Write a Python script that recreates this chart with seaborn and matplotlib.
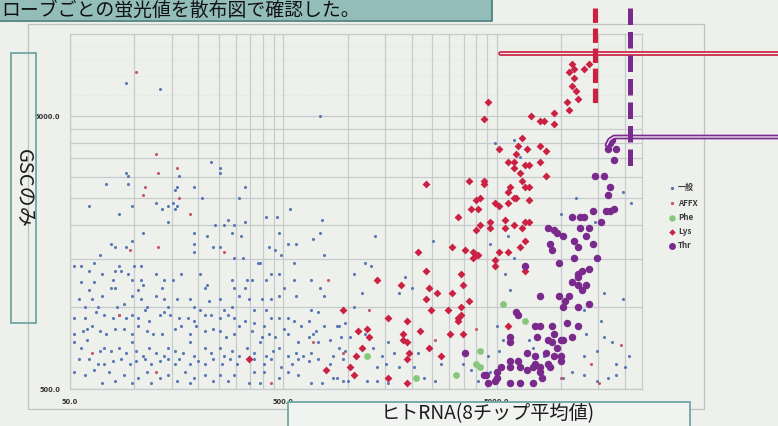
import numpy as np
import pandas as pd
import matplotlib
matplotlib.use("Agg")
import matplotlib.pyplot as plt
from matplotlib.lines import Line2D
from matplotlib.patches import Rectangle
from matplotlib.ticker import FixedLocator, NullFormatter
import seaborn as sns

# ---------------------------------------------------------------
# Probe intensities, stored as log10 values
# rna = human RNA (mean of 8 chips), gsc = GSC only
# ---------------------------------------------------------------
general_log_rna = [
    1.96, 2.12, 2.87, 2.36, 2.40, 2.40, 1.96, 1.97, 1.87, 1.97, 2.21, 2.20, 2.19, 2.28, 2.32, 2.52, 2.49,
    1.79, 1.99, 2.10, 2.13, 2.16, 2.18, 2.19, 2.20, 2.73,
    2.16, 1.93, 2.04, 2.28, 2.34, 2.38, 2.42, 2.44, 2.47, 2.52, 2.46, 2.62, 2.67, 2.68, 2.87, 2.88, 2.50,
    1.89, 1.91, 1.96, 1.99, 1.84, 2.28, 2.28, 2.37, 2.40, 2.47, 2.51, 2.58, 2.63, 2.66, 2.69, 2.72, 2.76,
    2.84, 2.89, 1.72, 1.75, 1.81, 1.79, 1.85, 1.90, 1.91, 1.93, 1.94, 1.89, 1.91, 1.97, 1.99, 2.00, 2.03,
    2.03, 2.04, 2.10, 2.14, 2.18, 2.22, 2.31, 2.34, 2.46, 2.47, 2.53, 2.55, 2.59, 2.62, 2.64, 2.68, 2.70,
    2.75, 2.75, 2.83, 2.87, 3.03,
    1.75, 1.79, 1.81, 1.85, 1.80, 1.74, 1.77, 1.83, 1.92, 1.95, 1.99, 2.02, 2.03, 2.06, 2.10, 2.13, 2.14,
    2.16, 2.20, 2.26, 2.28, 2.31, 2.33, 2.35, 2.40, 2.42, 2.46, 2.49, 2.52, 2.54, 2.56, 2.60, 2.62, 2.64,
    2.68, 2.72, 2.76, 2.83, 2.86, 2.89, 3.03,
    1.72, 1.77, 1.82, 1.86, 1.90, 1.93, 1.96, 1.99, 2.02, 2.05, 2.07, 2.12, 2.14, 2.17, 2.21, 2.25, 2.28,
    2.33, 2.36, 2.40, 2.44, 2.47, 2.52, 2.56, 2.61, 2.64, 2.68, 2.70, 2.75, 2.78, 2.82, 2.85, 2.89, 2.95, 2.99,
    1.72, 1.76, 1.78, 1.80, 1.84, 1.87, 1.91, 1.95, 1.99, 2.02, 2.06, 2.09, 2.13, 2.19, 2.22, 2.26, 2.29,
    2.33, 2.37, 2.40, 2.43, 2.47, 2.49, 2.55, 2.60, 2.63, 2.66, 2.72, 2.77, 2.82, 2.84, 2.92, 2.97, 3.01,
    1.72, 1.75, 1.78, 1.84, 1.86, 1.89, 1.93, 1.96, 1.99, 2.01, 2.04, 2.07, 2.10, 2.14, 2.16, 2.19, 2.23,
    2.26, 2.28, 2.33, 2.36, 2.40, 2.42, 2.46, 2.49, 2.53, 2.56, 2.59, 2.62, 2.65, 2.68, 2.72, 2.76, 2.79,
    2.83, 2.86, 2.93, 2.96,
    1.74, 1.79, 1.83, 1.86, 1.90, 1.94, 1.98, 2.01, 2.05, 2.08, 2.12, 2.16, 2.19, 2.21, 2.26, 2.30, 2.33,
    2.37, 2.41, 2.45, 2.48, 2.56, 2.61, 2.64, 2.69, 2.74, 2.77, 2.82, 2.86, 2.92, 2.98,
    1.72, 1.77, 1.81, 1.85, 1.88, 1.91, 1.95, 1.99, 2.02, 2.06, 2.08, 2.12, 2.16, 2.20, 2.24, 2.26, 2.28,
    2.33, 2.37, 2.40, 2.44, 2.47, 2.54, 2.56, 2.59, 2.61, 2.68, 2.72, 2.77, 2.83, 2.88, 2.93, 2.98,
    2.95, 3.00, 3.09, 3.14, 3.19, 3.08, 3.11, 3.07, 3.24, 3.27, 3.30, 3.33, 3.12, 3.16, 3.19, 3.22, 3.18,
    3.14, 3.24, 3.31, 3.36, 3.41, 3.44, 3.54, 3.58, 3.61, 3.67, 3.66, 3.71, 3.73, 3.70, 3.76, 3.74, 3.78,
    3.67, 3.85, 3.87, 3.92, 4.01, 4.05, 4.11, 4.17, 4.22, 4.26, 4.17, 4.20, 4.26, 4.30, 4.29, 4.20, 4.11,
    4.12, 2.96, 2.99, 3.08,
    3.78, 3.81, 3.69, 3.13, 3.40, 4.07, 4.00, 4.29, 4.33, 3.75, 4.16,
    4.19, 4.24, 4.32, 4.11,
]
general_log_gsc = [
    3.82, 3.80, 3.70, 3.53, 3.51, 3.49, 3.49, 3.48, 3.45, 3.45, 3.48, 3.44, 3.43, 3.44, 3.40, 3.44, 3.40,
    3.37, 3.37, 3.38, 3.36, 3.37, 3.38, 3.36, 3.37, 3.36,
    3.31, 3.34, 3.27, 3.27, 3.26, 3.30, 3.30, 3.32, 3.30, 3.31, 3.27, 3.33, 3.33, 3.27, 3.27, 3.32, 3.26,
    3.23, 3.22, 3.22, 3.24, 3.19, 3.23, 3.20, 3.22, 3.22, 3.18, 3.18, 3.16, 3.22, 3.21, 3.19, 3.23, 3.23,
    3.25, 3.19, 3.15, 3.15, 3.16, 3.13, 3.12, 3.10, 3.13, 3.15, 3.13, 3.07, 3.07, 3.12, 3.10, 3.15, 3.15,
    3.10, 3.08, 3.12, 3.10, 3.10, 3.12, 3.12, 3.08, 3.10, 3.07, 3.10, 3.10, 3.16, 3.10, 3.12, 3.12, 3.07,
    3.16, 3.10, 3.10, 3.07, 3.12,
    3.09, 3.06, 3.09, 3.04, 3.03, 3.03, 3.00, 3.00, 3.00, 3.01, 3.04, 3.06, 3.03, 3.00, 3.04, 3.07, 3.03,
    3.00, 3.03, 3.03, 3.00, 2.99, 3.07, 3.02, 3.03, 2.99, 3.00, 3.04, 3.07, 3.03, 2.99, 3.03, 2.99, 3.03,
    3.04, 2.96, 3.04, 2.99, 2.98, 3.04, 3.00,
    2.96, 2.96, 2.98, 2.97, 2.96, 2.97, 2.96, 2.97, 2.96, 2.99, 2.95, 2.97, 2.98, 2.97, 2.96, 2.96, 2.95,
    2.97, 2.97, 2.96, 2.97, 2.96, 2.95, 2.94, 2.93, 2.96, 2.96, 2.92, 2.95, 2.93, 2.95, 2.91, 2.93, 2.93, 2.94,
    2.90, 2.91, 2.92, 2.93, 2.91, 2.90, 2.92, 2.92, 2.90, 2.93, 2.91, 2.90, 2.90, 2.92, 2.93, 2.90, 2.93,
    2.91, 2.92, 2.91, 2.89, 2.90, 2.93, 2.91, 2.89, 2.90, 2.89, 2.90, 2.87, 2.89, 2.90, 2.88, 2.89, 2.89,
    2.87, 2.85, 2.88, 2.84, 2.85, 2.84, 2.85, 2.83, 2.87, 2.84, 2.82, 2.85, 2.83, 2.82, 2.85, 2.84, 2.83,
    2.87, 2.82, 2.85, 2.83, 2.85, 2.82, 2.84, 2.82, 2.85, 2.83, 2.87, 2.82, 2.84, 2.85, 2.82, 2.83, 2.82,
    2.83, 2.87, 2.82, 2.85,
    2.81, 2.81, 2.79, 2.79, 2.80, 2.81, 2.79, 2.80, 2.81, 2.79, 2.80, 2.81, 2.79, 2.81, 2.79, 2.80, 2.79,
    2.81, 2.79, 2.81, 2.79, 2.81, 2.79, 2.81, 2.78, 2.79, 2.81, 2.80, 2.81, 2.79, 2.81,
    2.76, 2.75, 2.77, 2.72, 2.76, 2.73, 2.75, 2.72, 2.74, 2.76, 2.72, 2.74, 2.75, 2.73, 2.76, 2.72, 2.74,
    2.75, 2.73, 2.75, 2.73, 2.75, 2.72, 2.76, 2.72, 2.76, 2.74, 2.76, 2.75, 2.72, 2.72, 2.74, 2.73,
    2.74, 2.73, 2.73, 2.73, 2.72, 3.16, 3.15, 3.05, 3.05, 3.11, 3.07, 2.83, 2.85, 2.82, 2.87, 2.83, 2.79,
    2.78, 2.78, 2.78, 2.74, 2.73, 2.79, 2.79, 2.77, 2.73, 2.76, 2.82, 2.84, 2.88, 2.93, 3.06, 3.12, 3.18,
    3.23, 2.88, 2.85, 2.82, 2.74, 2.76, 2.75, 2.73, 2.74, 2.75, 2.84, 2.89, 2.79, 2.78, 3.03, 3.05, 2.82,
    2.90, 2.93, 2.84, 2.90,
    3.61, 3.55, 3.60, 3.26, 3.24, 3.40, 3.34, 3.42, 3.38, 3.26, 3.31,
    2.95, 2.87, 2.82, 2.99,
]

affx_log_rna = [2.01, 2.10, 2.11, 2.20, 2.05, 2.04, 2.21, 2.26, 1.98, 2.11, 2.42, 2.91, 1.93,
                1.80, 2.10, 2.64, 2.84, 2.98, 3.10, 3.41, 3.60, 4.00, 4.14, 4.28, 4.18]
affx_log_gsc = [3.86, 3.56, 3.49, 3.51, 3.44, 3.41, 3.40, 3.34, 3.21, 3.22, 3.20, 3.10, 2.97,
                2.83, 2.76, 2.72, 2.87, 2.83, 2.99, 2.88, 2.92, 2.74, 2.79, 2.86, 2.72]

phe_log_rna = [3.73, 3.83, 3.62, 3.60, 3.62, 3.51, 3.32, 3.09]
phe_log_gsc = [3.01, 2.95, 2.84, 2.79, 2.78, 2.75, 2.74, 2.82]

lys_log_rna = [
    4.13, 4.11, 4.05, 4.06, 4.04, 4.06, 4.05, 4.07, 4.03, 4.08, 4.04, 3.66, 3.64, 3.86, 3.90, 3.92, 3.97,
    3.97, 3.82, 3.71, 3.80, 3.84, 3.79, 3.90, 3.93, 3.90, 3.75, 3.78, 3.83, 3.85, 3.78, 3.81, 3.93, 3.82,
    3.83, 3.85, 3.37, 3.57, 3.64, 3.64, 3.76, 3.75, 3.78, 3.79, 3.75, 3.85, 3.60, 3.62, 3.58, 3.61, 3.69,
    3.71, 3.52, 3.74, 3.78, 3.83, 3.85, 3.82, 3.67, 3.67, 3.62, 3.60, 3.74, 3.83, 3.81, 3.49, 3.55, 3.33,
    3.59, 3.60, 3.59, 3.61, 3.71, 3.75, 3.69, 3.69, 3.14, 3.25, 3.37, 3.38, 3.42, 3.49, 3.54, 3.53, 3.37,
    3.57, 3.53, 3.39, 3.47, 3.52, 3.53, 3.52, 3.28, 3.19, 2.98, 3.05, 3.09, 3.10, 3.07, 3.26, 3.26, 3.28,
    3.34, 3.48, 3.54, 3.38, 3.29, 3.28, 3.44, 3.04, 3.01, 3.03, 3.19, 3.28, 3.75, 3.83, 2.90, 2.54,
]
lys_log_gsc = [
    3.89, 3.87, 3.89, 3.87, 3.86, 3.84, 3.81, 3.79, 3.75, 3.76, 3.72, 3.75, 3.69, 3.70, 3.68, 3.68, 3.71,
    3.67, 3.62, 3.58, 3.59, 3.58, 3.56, 3.59, 3.57, 3.53, 3.53, 3.53, 3.52, 3.52, 3.51, 3.49, 3.48, 3.46,
    3.44, 3.44, 3.45, 3.46, 3.46, 3.45, 3.44, 3.42, 3.40, 3.40, 3.38, 3.39, 3.39, 3.40, 3.36, 3.36, 3.38,
    3.37, 3.33, 3.32, 3.30, 3.31, 3.31, 3.29, 3.31, 3.29, 3.30, 3.28, 3.29, 3.24, 3.22, 3.22, 3.21, 3.20,
    3.20, 3.19, 3.18, 3.19, 3.20, 3.20, 3.17, 3.15, 3.10, 3.08, 3.13, 3.07, 3.05, 3.05, 3.08, 3.12, 3.03,
    3.02, 3.00, 2.99, 2.99, 2.96, 2.97, 2.95, 2.95, 2.96, 2.99, 2.91, 2.92, 2.89, 2.85, 2.90, 2.88, 2.87,
    2.91, 2.90, 2.90, 2.85, 2.83, 2.81, 2.82, 2.82, 2.78, 2.75, 2.74, 2.72, 2.93, 3.13, 2.77, 2.81,
]

thr_log_rna = [
    4.24, 4.23, 4.22, 4.26, 4.25, 4.16, 4.20, 4.23, 4.22, 4.15, 4.21, 4.23, 4.25, 4.19, 4.05, 4.09, 4.11,
    4.09, 4.13, 4.12, 4.15, 4.06, 4.08, 3.94, 3.97, 3.98, 4.01, 3.95, 3.96, 3.99, 4.06, 4.17, 4.08, 4.10,
    4.13, 4.08, 4.05, 4.08, 4.12, 4.10, 3.99, 4.04, 4.02, 4.01, 4.08, 4.13, 3.90, 3.79, 3.80, 3.83, 3.88,
    3.90, 3.89, 3.96, 3.97, 4.03, 4.08, 3.76, 3.76, 3.94, 3.96, 4.00, 4.01, 4.05, 3.98, 4.00, 3.97, 3.93,
    3.88, 3.84, 3.88, 3.90, 3.87, 3.84, 3.80, 3.76, 3.81, 3.76, 3.72, 3.70, 3.65, 3.70, 3.69, 3.66, 3.76,
    3.81, 3.87, 3.91, 3.90, 3.94, 3.95, 4.00, 3.55, 3.64,
]
thr_log_gsc = [
    3.61, 3.60, 3.58, 3.58, 3.54, 3.48, 3.48, 3.44, 3.41, 3.35, 3.35, 3.35, 3.36, 3.31, 3.33, 3.33, 3.33,
    3.29, 3.29, 3.26, 3.23, 3.24, 3.22, 3.29, 3.28, 3.27, 3.26, 3.23, 3.21, 3.16, 3.18, 3.18, 3.12, 3.13,
    3.14, 3.11, 3.09, 3.08, 3.08, 3.06, 3.04, 3.04, 3.02, 3.00, 3.00, 3.01, 3.04, 2.98, 2.97, 3.15, 2.93,
    2.93, 2.89, 2.93, 2.90, 2.94, 2.93, 2.89, 2.87, 2.88, 2.87, 2.88, 2.88, 2.89, 2.85, 2.82, 2.82, 2.83,
    2.82, 2.83, 2.79, 2.78, 2.78, 2.77, 2.80, 2.80, 2.78, 2.78, 2.78, 2.76, 2.75, 2.74, 2.73, 2.72, 2.72,
    2.72, 2.72, 2.74, 2.76, 2.79, 2.78, 2.80, 2.83, 2.75,
]

legend_labels = ["一般", "AFFX", "Phe", "Lys", "Thr"]
x_tick_values = [50, 500, 5000]
y_tick_values = [500, 5000]
title_text = "ローブごとの蛍光値を散布図で確認した。"
x_label = "ヒトRNA(8チップ平均値)"
y_label = "GSCのみ"

# ---------------------------------------------------------------
W, H = 778, 426
BG = "#eef0ec"
GRID = "#c6cccb"
C_GEN = "#5a77b6"
C_AFFX = "#c35a66"
C_PHE = "#86c87a"
C_LYS = "#cb2142"
C_THR = "#7a2a8c"
TEAL = "#6ea7a5"

sns.set_theme(style="white")
plt.rcParams["font.family"] = ["Noto Sans CJK JP", "DejaVu Sans"]


def frame(log_rna, log_gsc, group):
    return pd.DataFrame({"rna": np.power(10.0, log_rna),
                         "gsc": np.power(10.0, log_gsc),
                         "group": group})


df = pd.concat([
    frame(general_log_rna, general_log_gsc, legend_labels[0]),
    frame(affx_log_rna, affx_log_gsc, legend_labels[1]),
    frame(phe_log_rna, phe_log_gsc, legend_labels[2]),
    frame(lys_log_rna, lys_log_gsc, legend_labels[3]),
    frame(thr_log_rna, thr_log_gsc, legend_labels[4]),
], ignore_index=True)

styles = {
    "一般": dict(color=C_GEN, marker="o", s=5),
    "AFFX": dict(color=C_AFFX, marker="o", s=5),
    "Phe": dict(color=C_PHE, marker="o", s=24),
    "Lys": dict(color=C_LYS, marker="D", s=16),
    "Thr": dict(color=C_THR, marker="o", s=29),
}


def fx(x):
    return x / W


def fy(y):
    return 1 - y / H


fig = plt.figure(figsize=(W / 100, H / 100), dpi=100)
fig.patch.set_facecolor(BG)

# heading banner
fig.add_artist(Rectangle((0, fy(20)), fx(492), 20 / H, transform=fig.transFigure,
                         facecolor="#93bdb8", edgecolor="none", zorder=0))
fig.add_artist(Line2D([0, fx(492), fx(492)], [fy(20.5), fy(20.5), fy(0)],
                      transform=fig.transFigure, color="#4f8280", lw=1.3))
fig.text(fx(1), fy(10), title_text, ha="left", va="center", fontsize=13.6,
         color="#111111")

# outer chart frame
fig.add_artist(Rectangle((fx(28), fy(409)), (704 - 28) / W, (409 - 24) / H,
                         transform=fig.transFigure, fill=False, edgecolor="#bcc2c1", lw=0.9))

ax = fig.add_axes([fx(70), fy(389), (642 - 70) / W, (389 - 34) / H])
ax.set_facecolor(BG)
ax.set_xscale("log")
ax.set_yscale("log")

for name in legend_labels:
    sub = df[df["group"] == name]
    st = styles[name]
    sns.scatterplot(data=sub, x="rna", y="gsc", ax=ax, color=st["color"], marker=st["marker"],
                    s=st["s"], linewidth=0, legend=False, zorder=3)

ax.set_xlim(51, 24000)
ax.set_ylim(500, 10000)

grid_x = list(range(100, 500, 50)) + list(range(1000, 5000, 500)) + [10000, 15000, 20000]
grid_y = list(range(1000, 5000, 500))
ax.xaxis.set_minor_locator(FixedLocator(grid_x))
ax.yaxis.set_minor_locator(FixedLocator(grid_y))
ax.xaxis.set_minor_formatter(NullFormatter())
ax.yaxis.set_minor_formatter(NullFormatter())
ax.set_xticks(x_tick_values, labels=[f"{v:.1f}" for v in x_tick_values],
              fontsize=4.8, fontweight="bold", family="DejaVu Sans", color="#333333")
ax.set_yticks(y_tick_values, labels=[f"{v:.1f}" for v in y_tick_values],
              fontsize=4.8, fontweight="bold", family="DejaVu Sans", color="#333333")
ax.tick_params(which="both", length=0)
ax.tick_params(axis="x", pad=7)
ax.tick_params(axis="y", pad=7)
ax.grid(True, which="both", color=GRID, lw=0.9, zorder=0)
for v in (6000, 7000, 8000, 9000):
    ax.axhline(v, color="#d3d8d6", lw=0.6, ls=(0, (1, 3)), zorder=0)
ax.set_xlabel("")
ax.set_ylabel("")
for sp in ax.spines.values():
    sp.set_color(GRID)
    sp.set_linewidth(0.9)

# axis title boxes
fig.add_artist(Rectangle((fx(10.5), fy(323)), 25.5 / W, 270 / H, transform=fig.transFigure,
                         fill=False, edgecolor=TEAL, lw=1.3))
fig.text(fx(23), fy(188), y_label, rotation=-90, ha="center", va="center",
         fontsize=14.5, color="#1c1c1c")
fig.add_artist(Rectangle((fx(288), fy(430)), 402 / W, 28 / H, transform=fig.transFigure,
                         facecolor="#f1f3f0", edgecolor=TEAL, lw=1.3))
fig.text(fx(488), fy(414), x_label, ha="center", va="center", fontsize=13.8, color="#1c1c1c")

# legend
legend_rows = [188, 203, 218, 232, 246]
legend_marks = [("o", 2.4, C_GEN), ("o", 2.4, C_AFFX), ("o", 4.6, C_PHE),
                ("D", 3.3, C_LYS), ("o", 5.0, C_THR)]
for label, yrow, (mk, ms, col) in zip(legend_labels, legend_rows, legend_marks):
    fig.add_artist(Line2D([fx(672)], [fy(yrow)], transform=fig.transFigure, marker=mk,
                          markersize=ms, color=col, markeredgewidth=0, linestyle="none"))
    fig.text(fx(678), fy(yrow), label, ha="left", va="center", fontsize=5.8,
             fontweight="bold", color="#3a3a3a")

# threshold marks
fig.add_artist(Line2D([fx(595), fx(595)], [fy(8), fy(105)], transform=fig.transFigure,
                      color=C_LYS, lw=3.7, ls=(0, (2.8, 1.1)), dash_capstyle="butt", zorder=5))
fig.add_artist(Line2D([fx(630), fx(630)], [fy(8), fy(168)], transform=fig.transFigure,
                      color=C_THR, lw=3.6, ls=(0, (3.3, 1.4)), dash_capstyle="butt", zorder=5))

red_x = [fx(500), fx(778)]
red_y = [fy(52.7), fy(52.7)]
fig.add_artist(Line2D(red_x, red_y, transform=fig.transFigure, color=C_LYS, lw=3.4, zorder=4))
fig.add_artist(Line2D(red_x, red_y, transform=fig.transFigure, color="#f4f4f2", lw=0.9, zorder=4))

pur_x = [fx(607), fx(609.5), fx(614), fx(778)]
pur_y = [fy(145), fy(140), fy(137), fy(137)]
fig.add_artist(Line2D(pur_x, pur_y, transform=fig.transFigure, color=C_THR, lw=3.4,
                      solid_joinstyle="round", zorder=4))
fig.add_artist(Line2D(pur_x, pur_y, transform=fig.transFigure, color="#f4f4f2", lw=0.9,
                      solid_joinstyle="round", zorder=4))

fig.savefig("out.png", dpi=100, facecolor=BG)
